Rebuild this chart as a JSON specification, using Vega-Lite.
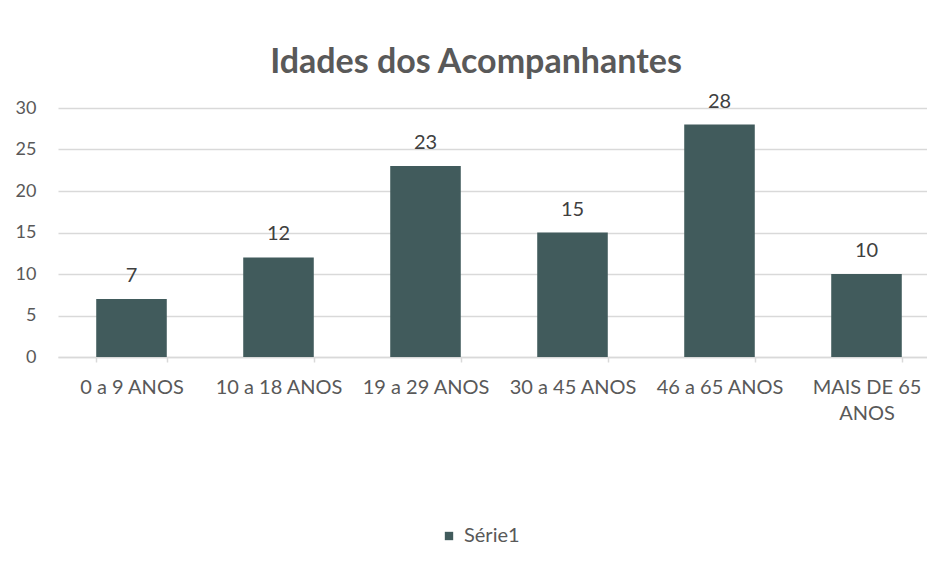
{
  "$schema": "https://vega.github.io/schema/vega-lite/v6.json",
  "autosize": "none",
  "width": 882,
  "height": 249,
  "padding": {"left": 58, "top": 108, "right": 0, "bottom": 208},
  "background": "white",
  "config": {"view": {"stroke": null}, "font": "Lato"},
  "title": {
    "text": "Idades dos Acompanhantes",
    "fontSize": 34,
    "font": "Lato",
    "fontWeight": "bold",
    "color": "#595959",
    "anchor": "middle",
    "dx": -23,
    "offset": 12
  },
  "data": {
    "values": [
      {"faixa": "0 a 9 ANOS", "valor": 7, "serie": "Série1"},
      {"faixa": "10 a 18 ANOS", "valor": 12, "serie": "Série1"},
      {"faixa": "19 a 29 ANOS", "valor": 23, "serie": "Série1"},
      {"faixa": "30 a 45 ANOS", "valor": 15, "serie": "Série1"},
      {"faixa": "46 a 65 ANOS", "valor": 28, "serie": "Série1"},
      {"faixa": "MAIS DE 65 ANOS", "valor": 10, "serie": "Série1"}
    ]
  },
  "encoding": {
    "x": {
      "field": "faixa",
      "type": "nominal",
      "sort": null,
      "scale": {"paddingInner": 0.52, "paddingOuter": 0.26},
      "axis": {
        "title": null,
        "labelAngle": 0,
        "labelFontSize": 20,
        "labelColor": "#595959",
        "labelFont": "Lato",
        "labelPadding": 15,
        "labelLineHeight": 26,
        "labelExpr": "datum.label == 'MAIS DE 65 ANOS' ? ['MAIS DE 65', 'ANOS'] : datum.label",
        "domainColor": "#d9d9d9",
        "domainWidth": 1.5,
        "tickColor": "#d9d9d9",
        "tickWidth": 1.5,
        "tickSize": 5,
        "tickBand": "extent",
        "grid": false
      }
    },
    "y": {
      "field": "valor",
      "type": "quantitative",
      "scale": {"domain": [0, 30], "nice": false},
      "axis": {
        "title": null,
        "values": [0, 5, 10, 15, 20, 25, 30],
        "labelFontSize": 18,
        "labelColor": "#595959",
        "labelFont": "Lato",
        "labelPadding": 22,
        "domain": false,
        "ticks": false,
        "gridColor": "#d9d9d9",
        "gridWidth": 1.5
      }
    }
  },
  "layer": [
    {
      "mark": {"type": "bar", "color": "#415b5c"},
      "encoding": {
        "color": {
          "field": "serie",
          "type": "nominal",
          "scale": {"range": ["#415b5c"]},
          "legend": {
            "title": null,
            "orient": "none",
            "legendX": 381,
            "legendY": 418,
            "symbolType": "square",
            "symbolSize": 70,
            "labelOffset": 5,
            "labelFontSize": 20,
            "labelColor": "#595959",
            "labelFont": "Lato"
          }
        }
      }
    },
    {
      "mark": {"type": "text", "dy": -13, "fontSize": 20, "color": "#404040", "font": "Lato", "baseline": "bottom"},
      "encoding": {"text": {"field": "valor", "type": "quantitative"}}
    }
  ]
}
